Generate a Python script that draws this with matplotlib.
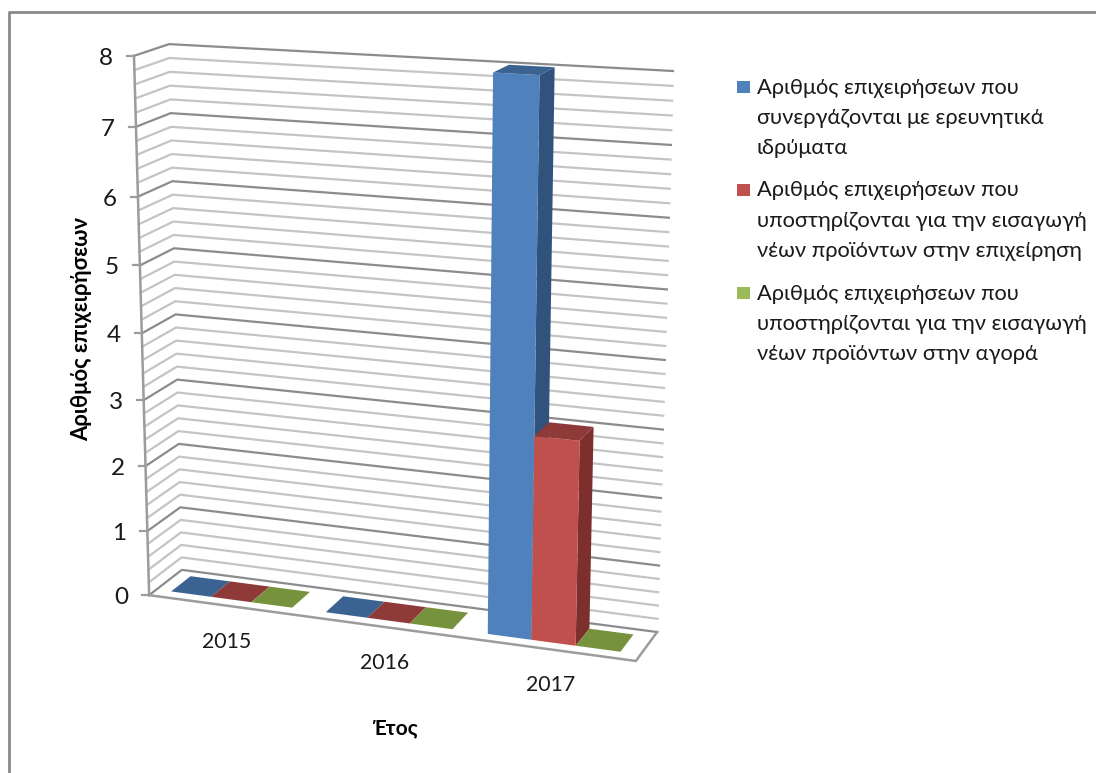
"""3D-look clustered bar chart, drawn with a small camera projection on a flat axes."""

import matplotlib

matplotlib.use("Agg")
import matplotlib.pyplot as plt
import numpy as np
from matplotlib.patches import Polygon, Rectangle

years = ["2015", "2016", "2017"]
series_labels = [
    "Αριθμός επιχειρήσεων που\nσυνεργάζονται με ερευνητικά\nιδρύματα",
    "Αριθμός επιχειρήσεων που\nυποστηρίζονται για την εισαγωγή\nνέων προϊόντων στην επιχείρηση",
    "Αριθμός επιχειρήσεων που\nυποστηρίζονται για την εισαγωγή\nνέων προϊόντων στην αγορά",
]
blue_values = [0, 0, 8]
red_values = [0, 0, 3]
green_values = [0, 0, 0]
y_ticks = [0, 1, 2, 3, 4, 5, 6, 7, 8]

front_colors = ["#4F81BD", "#C0504D", "#9BBB59"]
side_colors = ["#31527C", "#7D2F2D", "#667B38"]
top_colors = ["#3A6391", "#8E3A38", "#76923C"]
text_color = "#1a1a1a"
font = ["Lato", "Open Sans", "DejaVu Sans"]

# camera fit: (category, depth, value) -> pixel, from the corners of the box
box_points = [
    (0, 0, 0, 149, 595),
    (0, 1, 0, 182, 570),
    (0, 0, 8, 134, 56),
    (0, 1, 8, 169, 44),
    (3, 1, 0, 657, 632),
    (3, 0, 0, 636, 661),
    (3, 1, 8, 673, 71),
]


def fit_camera(points):
    rows = []
    for x, d, z, u, v in points:
        rows.append([x, d, z, 1, 0, 0, 0, 0, -u * x, -u * d, -u * z, -u])
        rows.append([0, 0, 0, 0, x, d, z, 1, -v * x, -v * d, -v * z, -v])
    _, _, vt = np.linalg.svd(np.array(rows, dtype=float))
    return vt[-1].reshape(3, 4)


camera = fit_camera(box_points)


def project(x, d, z):
    p = camera @ np.array([x, d, z, 1.0])
    return p[0] / p[2], p[1] / p[2]


def draw_bar(ax, x0, x1, d0, d1, value, i):
    """Bar box from its data value: back side, top, then front."""
    if value > 0:
        side = [project(x1, d0, 0), project(x1, d1, 0), project(x1, d1, value), project(x1, d0, value)]
        ax.add_patch(Polygon(side, color=side_colors[i], lw=0, zorder=5 + i))
        front = [project(x0, d0, 0), project(x1, d0, 0), project(x1, d0, value), project(x0, d0, value)]
        ax.add_patch(Polygon(front, color=front_colors[i], lw=0, zorder=5 + i))
    top = [project(x0, d0, value), project(x1, d0, value), project(x1, d1, value), project(x0, d1, value)]
    ax.add_patch(Polygon(top, color=top_colors[i], lw=0, zorder=5 + i))


fig = plt.figure(figsize=(10.96, 7.73), dpi=100)
ax = fig.add_axes([0, 0, 1, 1])
ax.set_xlim(0, 1096)
ax.set_ylim(773, 0)
ax.axis("off")

# chart frame, cut off on the right and at the bottom
ax.plot([1096, 9, 9], [12, 12, 773], color="#8a8a8a", lw=2.0, zorder=1)

# wall gridlines
for k in range(41):
    z = k * 0.2
    major = k % 5 == 0
    pts = [project(0, 0, z), project(0, 1, z), project(3, 1, z)]
    ax.plot(*zip(*pts), color="#8c8c8c" if major else "#c4c4c4", lw=1.6, zorder=2)

# floor and value axis
floor = [project(0, 0, 0), project(3, 0, 0), project(3, 1, 0)]
ax.plot(*zip(*floor), color="#9c9c9c", lw=1.8, zorder=3)
ax.plot(*zip(project(0, 0, 0), project(0, 0, 8)), color="#9c9c9c", lw=1.8, zorder=3)
for t in y_ticks:
    u, v = project(0, 0, t)
    ax.plot([u - 7, u], [v, v], color="#9c9c9c", lw=1.6, zorder=3)
    ax.text(u - 21, v + 2.5, str(t), ha="right", va="center", fontsize=17.5, color=text_color, family=font)

# bars
bar_w = 0.262
bar_start = 0.097
bar_d0, bar_d1 = 0.22, 0.82
all_values = [blue_values, red_values, green_values]
for c in range(len(years)):
    for i, values in enumerate(all_values):
        x0 = c + bar_start + i * bar_w
        draw_bar(ax, x0, x0 + bar_w, bar_d0, bar_d1, values[c], i)

# category labels follow the front of the floor
for c, year in enumerate(years):
    u, v = project(c + 0.5, 0, 0)
    ax.text(u + 1, v + 36, year, ha="center", va="center", fontsize=15.3, color=text_color, family=font)

ax.text(82, 329, "Αριθμός επιχειρήσεων", rotation=90, ha="center", va="center",
        fontsize=15.8, fontweight="bold", color="black", family=font)
ax.text(395, 728, "Έτος", ha="center", va="center", fontsize=15, fontweight="bold",
        color="black", family=font)

# legend
for label, color, y0 in zip(series_labels, front_colors, [87, 190, 293]):
    ax.add_patch(Rectangle((737, y0 - 6), 12.5, 12, color=color, lw=0))
    ax.text(757, y0 - 9.5, label, ha="left", va="top", fontsize=15.75, color=text_color,
            linespacing=1.63, family=font)

fig.savefig("out.png", dpi=100)
plt.close(fig)
